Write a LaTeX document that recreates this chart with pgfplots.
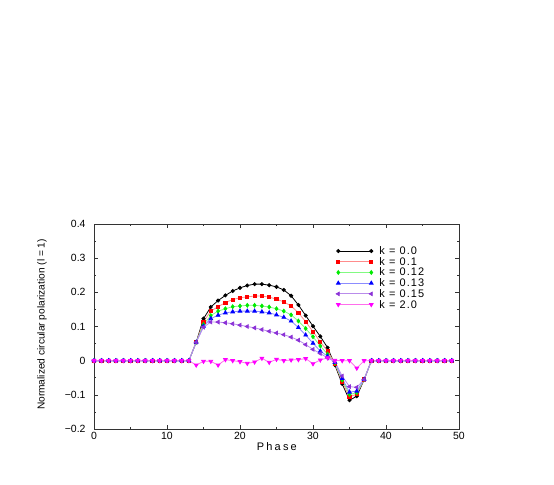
\documentclass[border=0pt]{standalone}
\usepackage{fontspec}
\setmainfont{Liberation Sans}
\newfontfamily\widefont[LetterSpace=20]{Liberation Sans}
\newfontfamily\legfont[LetterSpace=10]{Liberation Sans}
\usepackage{pgfplots}
\usepackage{pgfplotstable}
\pgfplotsset{compat=1.18}
\definecolor{xgreen}{RGB}{0,235,0}
\definecolor{xviolet}{RGB}{140,50,215}
\definecolor{xmag}{RGB}{255,0,255}
\definecolor{lred}{RGB}{255,140,140}
\definecolor{lgreen}{RGB}{130,250,130}
\definecolor{lblue}{RGB}{140,140,255}
\definecolor{lviolet}{RGB}{185,140,235}
\definecolor{lmag}{RGB}{255,110,235}
\pgfplotstableread{
x k0 k1 k12 k13 k15 k2
0 0 0 0 0 0 0
1 0 0 0 0 0 0
2 0 0 0 0 0 0
3 0 0 0 0 0 0
4 0 0 0 0 0 0
5 0 0 0 0 0 0
6 0 0 0 0 0 0
7 0 0 0 0 0 0
8 0 0 0 0 0 0
9 0 0 0 0 0 0
10 0 0 0 0 0 0
11 0 0 0 0 0 0
12 0 0 0 0 0 0
13 0 0 0 0 0 0
14 0.054 0.054 0.054 0.054 0.054 -0.013
15 0.123 0.114 0.106 0.101 0.098 -0.002
16 0.157 0.145 0.132 0.123 0.113 -0.002
17 0.176 0.158 0.145 0.133 0.113 -0.013
18 0.191 0.170 0.152 0.140 0.111 0.003
19 0.204 0.179 0.158 0.143 0.108 0.000
20 0.213 0.184 0.160 0.145 0.104 -0.003
21 0.220 0.187 0.162 0.145 0.100 -0.008
22 0.224 0.189 0.162 0.145 0.096 -0.004
23 0.224 0.189 0.160 0.143 0.091 0.007
24 0.221 0.186 0.157 0.140 0.086 -0.005
25 0.216 0.180 0.152 0.134 0.081 0.004
26 0.207 0.172 0.145 0.127 0.076 0.000
27 0.190 0.160 0.134 0.116 0.069 0.002
28 0.163 0.140 0.116 0.097 0.060 0.003
29 0.132 0.114 0.094 0.075 0.047 0.006
30 0.101 0.085 0.070 0.051 0.033 -0.009
31 0.071 0.055 0.043 0.028 0.021 0.002
32 0.038 0.028 0.019 0.013 0.008 0.008
33 -0.013 -0.009 -0.007 -0.005 -0.003 0.001
34 -0.068 -0.062 -0.057 -0.052 -0.045 0.000
35 -0.116 -0.106 -0.099 -0.092 -0.076 0.000
36 -0.104 -0.098 -0.094 -0.089 -0.078 -0.022
37 -0.056 -0.055 -0.055 -0.055 -0.055 0.000
38 0 0 0 0 0 0
39 0 0 0 0 0 0
40 0 0 0 0 0 0
41 0 0 0 0 0 0
42 0 0 0 0 0 0
43 0 0 0 0 0 0
44 0 0 0 0 0 0
45 0 0 0 0 0 0
46 0 0 0 0 0 0
47 0 0 0 0 0 0
48 0 0 0 0 0 0
49 0 0 0 0 0 0
}\datatab
\begin{document}
\begin{tikzpicture}
\path[use as bounding box] (0,0) rectangle (554bp,485bp);
\begin{axis}[
  at={(94bp,56bp)}, anchor=south west,
  scale only axis, width=365bp, height=205bp,
  xmin=0, xmax=50, ymin=-0.2, ymax=0.4,
  xtick={0,10,...,50}, minor x tick num=1,
  ytick={-0.2,-0.1,0,0.1,0.2,0.3,0.4},
  yticklabels={−0.2,−0.1,0,0.1,0.2,0.3,0.4},
  minor y tick num=1,
  tick align=inside,
  major tick length=4bp, minor tick length=2.2bp,
  axis line style={black!80, line width=0.6bp},
  every tick/.style={black!80, line width=0.5bp},
  /pgf/number format/assume math mode=true,
  tick label style={font=\fontsize{10.5}{12}\selectfont},
  yticklabel style={xshift=-5bp},
  xlabel={Phase},
  xlabel style={font=\fontsize{11}{13}\widefont, at={(axis description cs:0.501,-0.088)}, anchor=center},
  ylabel={Normalized circular polarization (l = 1)},
  ylabel style={font=\fontsize{10.2}{12}\selectfont, at={(axis description cs:-0.1425,0.51)}, anchor=center},
  clip=false,
  legend style={at={(0.663,0.895)}, anchor=north west, draw=none, fill=none,
    inner sep=0pt, row sep=0pt,
    /tikz/every odd column/.append style={column sep=5bp},
    nodes={font=\fontsize{11}{13}\legfont, text height=7.5bp, text depth=0.5bp, inner sep=1.35bp}},
  legend cell align=left,
  legend image code/.code={\draw[#1, mark repeat=1] plot coordinates {(0bp,0bp) (33bp,0bp)};},
  every axis plot/.append style={line width=0.8bp},
]
\addplot[black, mark=*, mark size=1.6bp, mark options={fill=black}] table[x=x,y=k0] {\datatab};
\addlegendentry{k = 0.0}
\addplot[lred, mark=square*, mark size=1.6bp, mark options={draw=red, fill=red}] table[x=x,y=k1] {\datatab};
\addlegendentry{k = 0.1}
\addplot[lgreen, mark=diamond*, mark size=1.9bp, mark options={draw=xgreen, fill=xgreen}] table[x=x,y=k12] {\datatab};
\addlegendentry{k = 0.12}
\addplot[lblue, mark=triangle*, mark size=2.1bp, mark options={draw=blue, fill=blue}] table[x=x,y=k13] {\datatab};
\addlegendentry{k = 0.13}
\addplot[lviolet, mark=triangle*, mark size=2.1bp, mark options={draw=xviolet, fill=xviolet, rotate=90}] table[x=x,y=k15] {\datatab};
\addlegendentry{k = 0.15}
\addplot[lmag, mark=triangle*, mark size=2.1bp, mark options={draw=xmag, fill=xmag, rotate=180}] table[x=x,y=k2] {\datatab};
\addlegendentry{k = 2.0}
\end{axis}
\end{tikzpicture}
\end{document}
